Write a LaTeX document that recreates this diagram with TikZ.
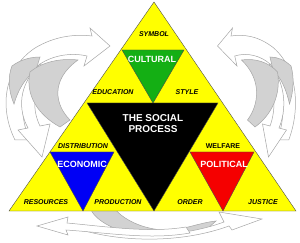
\documentclass[tikz,border=0pt]{standalone}
\usepackage{fontspec}
\setmainfont{Liberation Sans}
\usetikzlibrary{positioning}

\definecolor{cultgreen}{RGB}{20,175,20}
\definecolor{econblue}{RGB}{0,0,245}
\definecolor{polired}{RGB}{245,0,0}
\definecolor{pyryellow}{RGB}{255,255,0}

% one looping ribbon arrow, drawn in picture pixels
\newcommand{\swirl}{%
  \draw[ribbon] (15,140) .. controls (0,110) and (2,70) .. (35,48)
    .. controls (55,36) and (75,34) .. (92,36) -- (90,28) -- (110,46) -- (84,66) -- (87,56)
    .. controls (70,52) and (52,56) .. (40,64)
    .. controls (20,80) and (18,115) .. (30,140) -- cycle;
  \draw[fold] (12,66) .. controls (20,60) and (30,57) .. (40,57) -- (36,70)
    .. controls (25,78) and (18,90) .. (14,104) .. controls (8,90) and (8,76) .. (12,66) -- cycle;
  \draw[ribbon] (40,64) .. controls (18,85) and (18,110) .. (28,128) -- (18,130) -- (42,157)
    -- (50,124) -- (40,126) .. controls (32,110) and (32,88) .. (48,70) -- cycle;
  \draw[fold] (30,72) .. controls (25,95) and (38,115) .. (60,127) -- (70,120)
    .. controls (55,105) and (50,80) .. (78,60) .. controls (60,58) and (42,62) .. (30,72) -- cycle;
}

\begin{document}
\begin{tikzpicture}[x=1pt, y=-1pt,
  piece/.style={draw=black!70, line width=0.4pt},
  ribbon/.style={draw=gray!70, fill=white, line width=0.5pt},
  fold/.style={draw=gray!70, fill=gray!35, line width=0.5pt},
  word/.style={font=\bfseries\itshape\fontsize{7}{8}\selectfont, inner sep=0pt},
  heading/.style={font=\bfseries\fontsize{9}{10}\selectfont, text=white, inner sep=0pt}]

\useasboundingbox (0,0) rectangle (300,243);

% loops on both sides
\swirl
\begin{scope}[shift={(300,0)}, xscale=-0.75]
  \swirl
\end{scope}

% loop under the base
\draw[fold] (90,208) -- (114,208) .. controls (125,222) and (150,232) .. (175,230)
  .. controls (190,227) and (205,222) .. (216,221) -- (206,230)
  .. controls (185,237) and (160,240) .. (140,236) .. controls (112,230) and (95,220) .. (90,208) -- cycle;
\draw[ribbon] (90,226) .. controls (130,238) and (180,238) .. (224,222) -- (219,212) -- (262,219)
  -- (232,230) -- (229,226) .. controls (185,242) and (130,243) .. (85,231) -- cycle;
\draw[ribbon] (68,217) -- (37,226) -- (68,235) -- (66,230) .. controls (110,233) and (150,240) .. (190,233)
  -- (186,227) .. controls (150,233) and (110,227) .. (67,223) -- cycle;

% the pyramid
\coordinate (apex) at (154,2);
\coordinate (left) at (9,211);
\coordinate (right) at (296,211);
\fill[pyryellow] (apex) -- (left) -- (right) -- cycle;
\draw[piece] (apex) -- (left) -- (right) -- cycle;

\draw[piece, fill=black] (87,103) -- (218,103) -- (154,211) -- cycle;
\draw[piece, fill=cultgreen] (122,50) -- (184,50) -- (153,103) -- cycle;
\draw[piece, fill=econblue] (50,152) -- (114,152) -- (83,211) -- cycle;
\draw[piece, fill=polired] (190,152) -- (254,152) -- (223,211) -- cycle;

% labels
\node[word] (symbol) at (154,34) {SYMBOL};
\node[heading] (cultural) at (152,59) {CULTURAL};
\node[word] (education) at (113,92) {EDUCATION};
\node[word] (style) at (187,92) {STYLE};
\node[heading, align=center, font=\bfseries\fontsize{10}{11}\selectfont] (social) at (153,124) {THE SOCIAL\\PROCESS};
\node[word] (distribution) at (83,146) {DISTRIBUTION};
\node[word, font=\bfseries\fontsize{7}{8}\selectfont] (welfare) at (223,146) {WELFARE};
\node[heading] (economic) at (82,164) {ECONOMIC};
\node[heading] (political) at (224,164) {POLITICAL};
\node[word] (resources) at (46,202) {RESOURCES};
\node[word] (production) at (118,202) {PRODUCTION};
\node[word] (order) at (190,202) {ORDER};
\node[word] (justice) at (263,202) {JUSTICE};
\end{tikzpicture}
\end{document}
